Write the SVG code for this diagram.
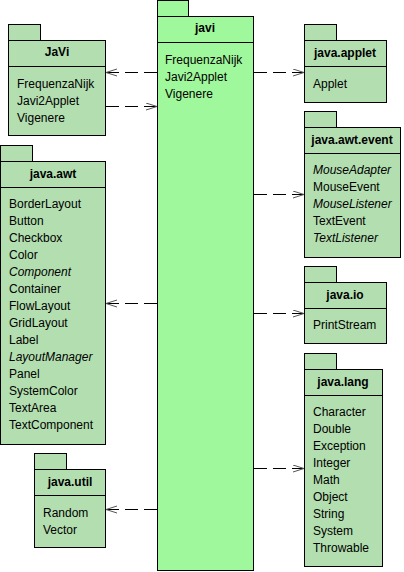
<svg xmlns="http://www.w3.org/2000/svg" width="404" height="572" viewBox="0 0 404 572">
<style>
.pkg{fill:#b3dfb0;stroke:#000;stroke-width:1}
.main{fill:#a0f89c;stroke:#000;stroke-width:1}
.t{font-family:"Liberation Sans",Arial,sans-serif;font-size:12px;font-weight:bold;text-anchor:middle;fill:#000}
.i{font-family:"Liberation Sans",Arial,sans-serif;font-size:12px;fill:#000}
.it{font-style:italic}
.dep{fill:none;stroke:#000;stroke-width:1;stroke-dasharray:13,6}
</style>
<defs>
<marker id="open" markerUnits="userSpaceOnUse" markerWidth="14" markerHeight="10" refX="11" refY="4" orient="auto">
<path d="M0,0.5 L11,4 L0,7.5" fill="none" stroke="#555" stroke-width="1"/>
</marker>
</defs>
<rect width="404" height="572" fill="#fff"/>
<g id="javi">
<rect class="main" x="157.5" y="0.5" width="31" height="16"/>
<rect class="main" x="157.5" y="16.5" width="96" height="554"/>
<line x1="157.5" y1="42.5" x2="253.5" y2="42.5" stroke="#000"/>
<text class="t" x="205" y="32">javi</text>
<text class="i" x="165" y="64">FrequenzaNijk</text>
<text class="i" x="165" y="81">Javi2Applet</text>
<text class="i" x="165" y="98">Vigenere</text>
</g>
<g id="JaVi">
<rect class="pkg" x="8.5" y="24.5" width="32" height="16"/>
<rect class="pkg" x="8.5" y="40.5" width="97" height="95"/>
<line x1="8.5" y1="66.5" x2="105.5" y2="66.5" stroke="#000"/>
<text class="t" x="57" y="56">JaVi</text>
<text class="i" x="17" y="88">FrequenzaNijk</text>
<text class="i" x="17" y="105">Javi2Applet</text>
<text class="i" x="17" y="122">Vigenere</text>
</g>
<g id="java.awt">
<rect class="pkg" x="0.5" y="145.5" width="32" height="16"/>
<rect class="pkg" x="0.5" y="161.5" width="105" height="283"/>
<line x1="0.5" y1="187.5" x2="105.5" y2="187.5" stroke="#000"/>
<text class="t" x="53" y="178">java.awt</text>
<text class="i" x="9" y="208">BorderLayout</text>
<text class="i" x="9" y="225">Button</text>
<text class="i" x="9" y="242">Checkbox</text>
<text class="i" x="9" y="259">Color</text>
<text class="i it" x="9" y="276">Component</text>
<text class="i" x="9" y="293">Container</text>
<text class="i" x="9" y="310">FlowLayout</text>
<text class="i" x="9" y="327">GridLayout</text>
<text class="i" x="9" y="344">Label</text>
<text class="i it" x="9" y="361">LayoutManager</text>
<text class="i" x="9" y="378">Panel</text>
<text class="i" x="9" y="395">SystemColor</text>
<text class="i" x="9" y="412">TextArea</text>
<text class="i" x="9" y="429">TextComponent</text>
</g>
<g id="java.util">
<rect class="pkg" x="34.5" y="453.5" width="32" height="16"/>
<rect class="pkg" x="34.5" y="469.5" width="71" height="78"/>
<line x1="34.5" y1="495.5" x2="105.5" y2="495.5" stroke="#000"/>
<text class="t" x="70" y="486">java.util</text>
<text class="i" x="43" y="517">Random</text>
<text class="i" x="43" y="534">Vector</text>
</g>
<g id="java.applet">
<rect class="pkg" x="304.5" y="24.5" width="32" height="16"/>
<rect class="pkg" x="304.5" y="40.5" width="82" height="62"/>
<line x1="304.5" y1="66.5" x2="386.5" y2="66.5" stroke="#000"/>
<text class="t" x="345" y="57">java.applet</text>
<text class="i" x="313" y="88">Applet</text>
</g>
<g id="java.awt.event">
<rect class="pkg" x="304.5" y="111.5" width="32" height="16"/>
<rect class="pkg" x="304.5" y="127.5" width="96" height="130"/>
<line x1="304.5" y1="153.5" x2="400.5" y2="153.5" stroke="#000"/>
<text class="t" x="352" y="144">java.awt.event</text>
<text class="i it" x="313" y="174">MouseAdapter</text>
<text class="i" x="313" y="191">MouseEvent</text>
<text class="i it" x="313" y="208">MouseListener</text>
<text class="i" x="313" y="225">TextEvent</text>
<text class="i it" x="313" y="242">TextListener</text>
</g>
<g id="java.io">
<rect class="pkg" x="304.5" y="266.5" width="32" height="16"/>
<rect class="pkg" x="304.5" y="282.5" width="82" height="61"/>
<line x1="304.5" y1="308.5" x2="386.5" y2="308.5" stroke="#000"/>
<text class="t" x="345" y="299">java.io</text>
<text class="i" x="313" y="329">PrintStream</text>
</g>
<g id="java.lang">
<rect class="pkg" x="304.5" y="353.5" width="32" height="16"/>
<rect class="pkg" x="304.5" y="369.5" width="78" height="197"/>
<line x1="304.5" y1="395.5" x2="382.5" y2="395.5" stroke="#000"/>
<text class="t" x="343" y="386">java.lang</text>
<text class="i" x="313" y="416">Character</text>
<text class="i" x="313" y="433">Double</text>
<text class="i" x="313" y="450">Exception</text>
<text class="i" x="313" y="467">Integer</text>
<text class="i" x="313" y="484">Math</text>
<text class="i" x="313" y="501">Object</text>
<text class="i" x="313" y="518">String</text>
<text class="i" x="313" y="535">System</text>
<text class="i" x="313" y="552">Throwable</text>
</g>
<g id="connectors">
<line class="dep" x1="157" y1="72.5" x2="106" y2="72.5" marker-end="url(#open)"/>
<line class="dep" x1="106" y1="106.5" x2="157" y2="106.5" marker-end="url(#open)"/>
<line class="dep" x1="254" y1="72.5" x2="304" y2="72.5" marker-end="url(#open)"/>
<line class="dep" x1="254" y1="194.5" x2="304" y2="194.5" marker-end="url(#open)"/>
<line class="dep" x1="254" y1="313.5" x2="304" y2="313.5" marker-end="url(#open)"/>
<line class="dep" x1="254" y1="468.5" x2="304" y2="468.5" marker-end="url(#open)"/>
<line class="dep" x1="157" y1="303.5" x2="106" y2="303.5" marker-end="url(#open)"/>
<line class="dep" x1="157" y1="509.5" x2="106" y2="509.5" marker-end="url(#open)"/>
</g>
</svg>
